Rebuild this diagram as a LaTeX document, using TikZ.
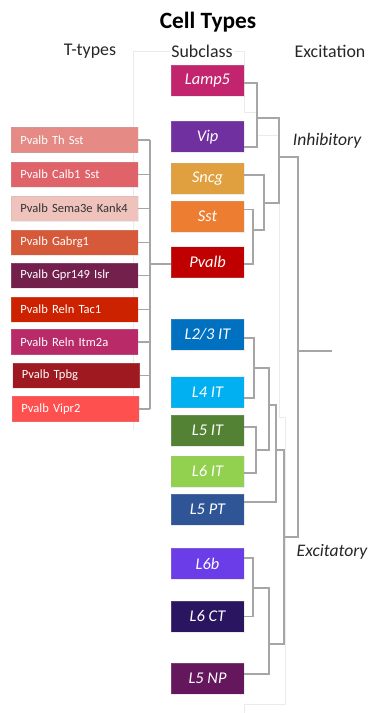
\documentclass[tikz,border=0pt]{standalone}
\usepackage{fontspec}
\setmainfont{Carlito}
\begin{document}
\begin{tikzpicture}[x=0.75pt,y=-0.75pt,
  subbox/.style={draw=white!70!black,draw opacity=0.25,line width=0.4pt,minimum width=54.75pt,minimum height=23.25pt,inner sep=0pt,
    text=white,font=\fontsize{12.3}{14}\selectfont\itshape},
  tbox/.style={draw=white!70!black,draw opacity=0.25,line width=0.4pt,minimum width=95.25pt,minimum height=19pt,inner sep=0pt,
    text=white,font=\fontsize{9.4}{11}\selectfont,text width=92pt,align=left,inner xsep=0pt,
    execute at begin node=\hspace*{5.5pt}},
  head/.style={font=\fontsize{13.4}{15}\selectfont,text=black!85,inner sep=0pt},
  grp/.style={font=\fontsize{13.2}{15}\selectfont\itshape,text=black!85,inner sep=0pt},
  den/.style={draw=black!35,line width=1pt},
  faint/.style={draw=black!8,line width=0.6pt}]
\useasboundingbox (0,0) rectangle (370,713);

% subclass colours
\definecolor{cLamp}{HTML}{C2256E}
\definecolor{cVip}{HTML}{7030A0}
\definecolor{cSncg}{HTML}{E0A040}
\definecolor{cSst}{HTML}{ED7D31}
\definecolor{cPvalb}{HTML}{C00000}
\definecolor{cLtwo}{HTML}{0070C0}
\definecolor{cLfour}{HTML}{00B0F0}
\definecolor{cLfiveIT}{HTML}{548235}
\definecolor{cLsixIT}{HTML}{92D050}
\definecolor{cLfivePT}{HTML}{2F5597}
\definecolor{cLsixb}{HTML}{6A3DE8}
\definecolor{cLsixCT}{HTML}{2A1660}
\definecolor{cLfiveNP}{HTML}{65175E}
% t-type colours
\definecolor{tA}{HTML}{E58A85}
\definecolor{tB}{HTML}{E0636A}
\definecolor{tC}{HTML}{F0C2BC}
\definecolor{tD}{HTML}{D65A3A}
\definecolor{tE}{HTML}{74204C}
\definecolor{tF}{HTML}{CC2200}
\definecolor{tG}{HTML}{B82A68}
\definecolor{tH}{HTML}{9E1A20}
\definecolor{tI}{HTML}{FF5050}

% faint outline of the subclass column
\draw[faint] (133,430) -- (133,51) -- (244,51) -- (244,112) -- (256,112);
\draw[faint] (257,135) -- (279,135) -- (279,417) -- (285,417) -- (285,704) -- (244,704) -- (244,713);

% titles
\node[font=\fontsize{17.5}{20}\selectfont\bfseries,inner sep=0pt] (title) at (208,22) {Cell Types};
\node[head] (hT) at (90,51) {T-types};
\node[head,fill=white,inner xsep=1pt] (hS) at (202,51) {Subclass};
\node[head] (hE) at (330,51) {Excitation};
\node[grp] (inh) at (327,141) {Inhibitory};
\node[grp] (exc) at (332,552) {Excitatory};

% subclass boxes
\node[subbox,fill=cLamp] (lamp) at (207.5,80.5) {Lamp5};
\node[subbox,fill=cVip] (vip) at (207.5,137) {Vip};
\node[subbox,fill=cSncg] (sncg) at (207.5,178.5) {Sncg};
\node[subbox,fill=cSst] (sst) at (207.5,216.5) {Sst};
\node[subbox,fill=cPvalb] (pvalb) at (207.5,262) {Pvalb};
\node[subbox,fill=cLtwo] (ltwo) at (207.5,334.5) {L2/3 IT};
\node[subbox,fill=cLfour] (lfour) at (207.5,392) {L4 IT};
\node[subbox,fill=cLfiveIT] (lfiveit) at (207.5,430.5) {L5 IT};
\node[subbox,fill=cLsixIT] (lsixit) at (207.5,471.5) {L6 IT};
\node[subbox,fill=cLfivePT] (lfivept) at (207.5,509.5) {L5 PT};
\node[subbox,fill=cLsixb] (lsixb) at (207.5,563.5) {L6b};
\node[subbox,fill=cLsixCT] (lsixct) at (207.5,616.5) {L6 CT};
\node[subbox,fill=cLfiveNP] (lfivenp) at (207.5,678.5) {L5 NP};

% t-type boxes
\node[tbox,fill=tA] (ta) at (74.5,140) {Pvalb Th Sst};
\node[tbox,fill=tB] (tb) at (74.5,174.5) {Pvalb Calb1 Sst};
\node[tbox,fill=tC,text=black!80] (tc) at (74.5,208.5) {Pvalb Sema3e Kank4};
\node[tbox,fill=tD] (td) at (74.5,242.5) {Pvalb Gabrg1};
\node[tbox,fill=tE] (te) at (74.5,275.5) {Pvalb Gpr149 Islr};
\node[tbox,fill=tF] (tf) at (74.5,309.5) {Pvalb Reln Tac1};
\node[tbox,fill=tG] (tg) at (74.5,342) {Pvalb Reln Itm2a};
\node[tbox,fill=tH] (th) at (76,375.5) {Pvalb Tpbg};
\node[tbox,fill=tI] (ti) at (75.5,409) {Pvalb Vipr2};

% t-type bracket into Pvalb
\coordinate (tj) at (150,264);
\foreach \n in {ta,tb,tc,td,te,tf,tg,th,ti}
  \draw[den] (\n.east) -- (\n.east -| tj);
\draw[den] (ta.east -| tj) -- (ti.east -| tj);
\draw[den] (tj) -- (tj -| pvalb.west);

% junctions of the subclass dendrogram
\coordinate (a1) at (257,118);
\coordinate (a2) at (253,230);
\coordinate (a3) at (264,203);
\coordinate (a4) at (279,157);
\coordinate (b1) at (254,368);
\coordinate (b2) at (256,450);
\coordinate (b3) at (269,405);
\coordinate (b4) at (276,450);
\coordinate (b5) at (253,588);
\coordinate (b6) at (269,644);
\coordinate (b7) at (284,537);
\coordinate (r) at (298,351);
\coordinate (rt) at (332,351);

% inhibitory branch
\draw[den] ([shift={(0,2.5)}]lamp.east) -| (a1) |- ([shift={(0,10)}]vip.east);
\draw[den] ([shift={(0,-7)}]sst.east) -| (a2) |- ([shift={(0,2)}]pvalb.east);
\draw[den] ([shift={(0,-3.5)}]sncg.east) -| (a3) |- (a2);
\draw[den] (a1) -| (a4) |- (a3);
% excitatory branch
\draw[den] ([shift={(0,3.5)}]ltwo.east) -| (b1) |- ([shift={(0,6)}]lfour.east);
\draw[den] ([shift={(0,-3.5)}]lfiveit.east) -| (b2) |- ([shift={(0,1.5)}]lsixit.east);
\draw[den] (b1) -| (b3) |- (b2);
\draw[den] (b3) -| (b4) |- ([shift={(0,-7.5)}]lfivept.east);
\draw[den] ([shift={(0,-5.5)}]lsixb.east) -| (b5) |- (lsixct.east);
\draw[den] (b5) -| (b6) |- ([shift={(0,-4.5)}]lfivenp.east);
\draw[den] (b4) -| (b7) |- (b6);
% root
\draw[den] (a4) -| (r) |- (b7);
\draw[den] (r) -- (rt);
\end{tikzpicture}
\end{document}
